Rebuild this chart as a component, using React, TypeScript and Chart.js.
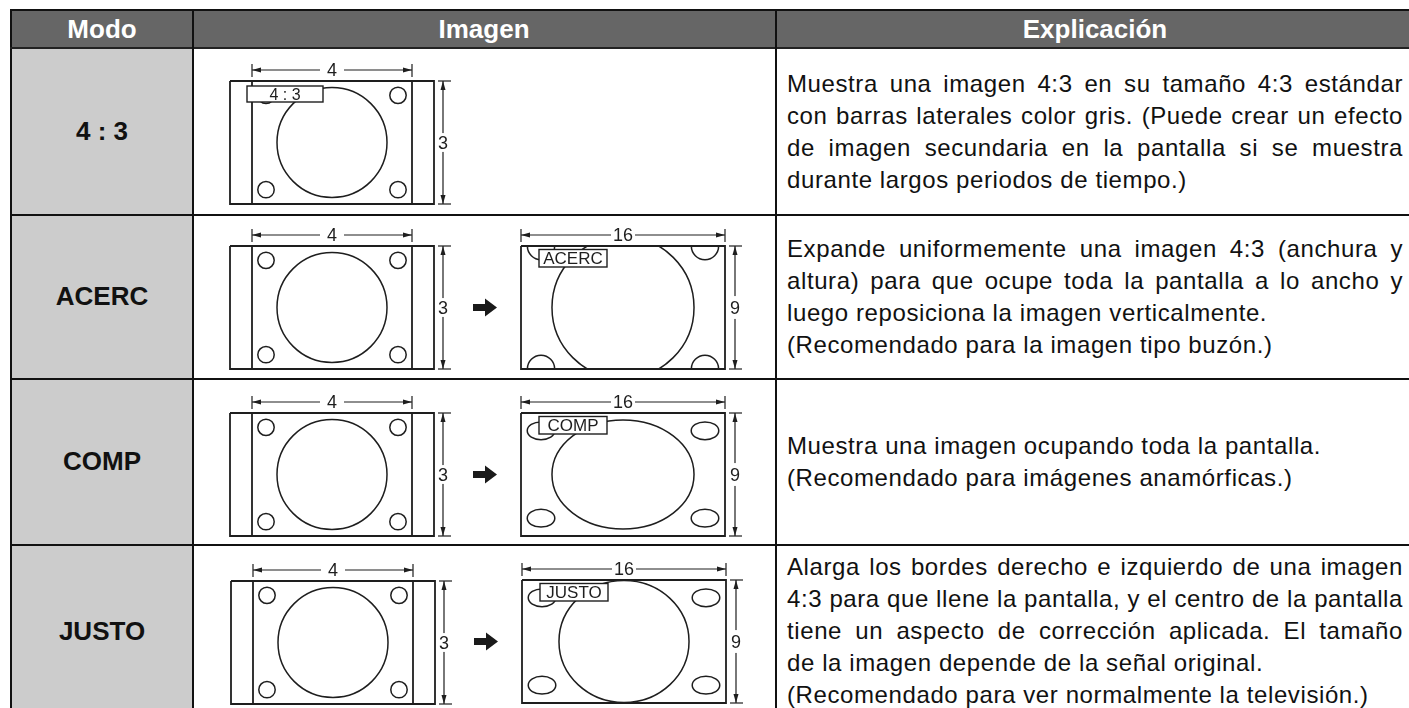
import React, { useEffect, useRef } from 'react';
import { Chart, registerables } from 'chart.js';

Chart.register(...registerables);

// ---------------- data ----------------
const HEADERS = ['Modo', 'Imagen', 'Explicación'];
const MODES = ['4 : 3', 'ACERC', 'COMP', 'JUSTO'];
const SCREEN_LABELS = ['4 : 3', 'ACERC', 'COMP', 'JUSTO'];
const SHOW_SOURCE_LABEL = [true, false, false, false];
const HAS_TARGET = [false, true, true, true];
const SOURCE_ASPECT = [4, 3];
const TARGET_ASPECT = [16, 9];
const SOURCE_DIM_LABELS = ['4', '3'];
const TARGET_DIM_LABELS = ['16', '9'];
const SOURCE_BAR = 0.55; // grey side bar width, in 4:3 screen units

// test pattern as seen on each screen, in screen units: [cx, cy, rx, ry]
const SOURCE_MAIN = [2, 1.5, 1.375, 1.34];
const SOURCE_CORNER = [0.35, 0.35, 0.205, 0.2]; // [insetX, insetY, rx, ry]
const TARGET_MAIN = [null, [8, 4.5, 5.57, 5.19], [8, 4.5, 5.57, 3.99], [8, 4.5, 5.1, 4.46]];
const TARGET_CORNER = [null, [1.57, 0, 1.07, 1.0], [1.57, 1.3, 1.08, 0.65], [1.57, 1.3, 1.08, 0.65]];

const EXPLANATIONS = [
  [[
    'Muestra una imagen 4:3 en su tamaño 4:3 estándar',
    'con barras laterales color gris. (Puede crear un efecto',
    'de imagen secundaria en la pantalla si se muestra',
    'durante largos periodos de tiempo.)',
  ]],
  [[
    'Expande uniformemente una imagen 4:3 (anchura y',
    'altura) para que ocupe toda la pantalla a lo ancho y',
    'luego reposiciona la imagen verticalmente.',
  ], ['(Recomendado para la imagen tipo buzón.)']],
  [['Muestra una imagen ocupando toda la pantalla.'], ['(Recomendado para imágenes anamórficas.)']],
  [[
    'Alarga los bordes derecho e izquierdo de una imagen',
    '4:3 para que llene la pantalla, y el centro de la pantalla',
    'tiene un aspecto de corrección aplicada. El tamaño',
    'de la imagen depende de la señal original.',
  ], ['(Recomendado para ver normalmente la televisión.)']],
];

// ---------------- layout ----------------
const FONT = '"Liberation Sans", Arial, Helvetica, sans-serif';
const INK = '#1e1e1e';
const TABLE_LEFT = 10;
const TABLE_TOP = 9;
const TABLE_RIGHT = 1420;
const HEADER_BOTTOM = 47;
const ROW_TOPS = [49, 215, 379, 545];
const ROW_BOTTOMS = [214, 378, 544, 717];
const COL_LINES = [192, 775];
const TEXT_LEFT = 787;
const TEXT_WIDTH = 616;
const TEXT_SIZE = 24;
const TEXT_LS = 0.6;
const HEADER_CENTERS = [102, 484, 1095];
const DIAGRAM_POS = [
  { src: [230, 81] },
  { src: [230, 246], dst: [521, 246] },
  { src: [230, 413], dst: [521, 413] },
  { src: [231, 581], dst: [522, 580] },
];
const GEO = {
  src: { ppx: 40, ppy: 41, mL: 6, mR: 22, mT: 20, mB: 4, rightGap: 9 },
  dst: { ppx: 12.75, ppy: 13.667, mL: 52, mR: 22, mT: 20, mB: 4, rightGap: 10 },
};

let measureCtx: CanvasRenderingContext2D | null = null;
function measure(text: string, font: string) {
  if (!measureCtx) measureCtx = document.createElement('canvas').getContext('2d');
  measureCtx!.font = font;
  return measureCtx!.measureText(text).width;
}

function seg(points: number[][], width: number) {
  return {
    data: points.map(([x, y]) => ({ x, y })),
    showLine: true,
    borderColor: INK,
    borderWidth: width,
    pointRadius: 0,
    pointHoverRadius: 0,
    fill: false,
    tension: 0,
  };
}

function geometry(kind: 'src' | 'dst') {
  const g = GEO[kind];
  const [W, H] = kind === 'src' ? SOURCE_ASPECT : TARGET_ASPECT;
  const fx0 = kind === 'src' ? -SOURCE_BAR : 0;
  const fx1 = kind === 'src' ? W + SOURCE_BAR : W;
  const width = Math.round((fx1 - fx0) * g.ppx + g.mL + g.mR);
  const height = Math.round(H * g.ppy + g.mT + g.mB);
  return { g, W, H, fx0, fx1, width, height };
}

function createDiagram(canvas: HTMLCanvasElement, kind: 'src' | 'dst', row: number) {
  const { g, W, H, fx0, fx1 } = geometry(kind);
  const ux = (px: number) => px / g.ppx;
  const uy = (px: number) => px / g.ppy;
  const dimY = -uy(11), tickY0 = -uy(17), tickY1 = -uy(4);
  const dimX = fx1 + ux(g.rightGap), tickX0 = fx1 + ux(4), tickX1 = fx1 + ux(17);

  const datasets: any[] = [seg([[fx0, 0], [fx1, 0], [fx1, H], [fx0, H], [fx0, 0]], 1.8)];
  if (kind === 'src') {
    datasets.push(seg([[0, 0], [0, H]], 1.8), seg([[W, 0], [W, H]], 1.8));
  }
  datasets.push(
    seg([[0, dimY], [W, dimY]], 1.2),
    seg([[0, tickY0], [0, tickY1]], 1.2),
    seg([[W, tickY0], [W, tickY1]], 1.2),
    seg([[dimX, 0], [dimX, H]], 1.2),
    seg([[tickX0, 0], [tickX1, 0]], 1.2),
    seg([[tickX0, H], [tickX1, H]], 1.2),
  );

  const ellipses: number[][] = [];
  const main = kind === 'src' ? SOURCE_MAIN : TARGET_MAIN[row]!;
  const corner = kind === 'src' ? SOURCE_CORNER : TARGET_CORNER[row]!;
  ellipses.push(main);
  const [ix, iy, crx, cry] = corner;
  ellipses.push([ix, iy, crx, cry], [W - ix, iy, crx, cry], [ix, H - iy, crx, cry], [W - ix, H - iy, crx, cry]);

  const label = kind === 'src'
    ? (SHOW_SOURCE_LABEL[row] ? { x0: -ux(5), x1: -ux(5) + ux(76), y0: uy(5), y1: uy(21), size: 16 } : null)
    : { x0: ux(18), x1: ux(86), y0: uy(3.5), y1: uy(21), size: 17 };
  const dimLabels = kind === 'src' ? SOURCE_DIM_LABELS : TARGET_DIM_LABELS;
  const padH = kind === 'src' ? 7 : 2;
  const padV = kind === 'src' ? 3 : 5;

  const plugin = {
    id: 'screenDiagram',
    beforeDatasetsDraw(chart: any) {
      const ctx = chart.ctx;
      const xs = chart.scales.x, ys = chart.scales.y;
      const X = (v: number) => xs.getPixelForValue(v);
      const Y = (v: number) => ys.getPixelForValue(v);
      ctx.save();
      ctx.beginPath();
      ctx.rect(X(fx0), Y(0), X(fx1) - X(fx0), Y(H) - Y(0));
      ctx.clip();
      ctx.strokeStyle = INK;
      ctx.lineWidth = 1.5;
      for (const [cx, cy, rx, ry] of ellipses) {
        const px = X(cx), py = Y(cy);
        const prx = Math.abs(X(cx + rx) - px), pry = Math.abs(Y(cy + ry) - py);
        ctx.beginPath();
        ctx.ellipse(px, py, prx, pry, 0, 0, Math.PI * 2);
        ctx.stroke();
      }
      ctx.restore();
    },
    afterDatasetsDraw(chart: any) {
      const ctx = chart.ctx;
      const xs = chart.scales.x, ys = chart.scales.y;
      const X = (v: number) => xs.getPixelForValue(v);
      const Y = (v: number) => ys.getPixelForValue(v);
      ctx.save();
      // screen label box
      if (label) {
        const bx = X(label.x0), by = Y(label.y0), bw = X(label.x1) - bx, bh = Y(label.y1) - by;
        ctx.fillStyle = '#fff';
        ctx.fillRect(bx, by, bw, bh);
        ctx.strokeStyle = INK;
        ctx.lineWidth = 1.4;
        ctx.strokeRect(bx, by, bw, bh);
        ctx.fillStyle = INK;
        ctx.font = `${label.size}px ${FONT}`;
        ctx.textAlign = 'center';
        ctx.textBaseline = 'alphabetic';
        ctx.fillText(SCREEN_LABELS[row], bx + bw / 2, by + bh / 2 + label.size * 0.36);
      }
      // arrow heads
      ctx.fillStyle = INK;
      const head = (tx: number, ty: number, dx: number, dy: number) => {
        const L = 9, hw = 2.5;
        ctx.beginPath();
        ctx.moveTo(tx, ty);
        ctx.lineTo(tx - dx * L - dy * hw, ty - dy * L + dx * hw);
        ctx.lineTo(tx - dx * L + dy * hw, ty - dy * L - dx * hw);
        ctx.closePath();
        ctx.fill();
      };
      head(X(0), Y(dimY), -1, 0);
      head(X(W), Y(dimY), 1, 0);
      head(X(dimX), Y(0), 0, -1);
      head(X(dimX), Y(H), 0, 1);
      // dimension labels
      const size = 18;
      ctx.font = `${size}px ${FONT}`;
      ctx.textAlign = 'center';
      ctx.textBaseline = 'alphabetic';
      const cap = size * 0.716;
      const drawDim = (text: string, cx: number, cy: number, ph: number, pv: number) => {
        const tw = measure(text, ctx.font);
        ctx.fillStyle = '#fff';
        ctx.fillRect(cx - tw / 2 - ph, cy - cap / 2 - pv, tw + 2 * ph, cap + 2 * pv);
        ctx.fillStyle = INK;
        ctx.fillText(text, cx, cy + cap / 2);
      };
      drawDim(dimLabels[0], X(W / 2), Y(dimY), padH, 3);
      drawDim(dimLabels[1], X(dimX), Y(H / 2), 1, padV);
      // conversion arrow
      if (kind === 'dst') {
        const c = H / 2;
        const pts = [
          [-ux(48), c - uy(3.5)], [-ux(36), c - uy(3.5)], [-ux(36), c - uy(9)], [-ux(24), c],
          [-ux(36), c + uy(9)], [-ux(36), c + uy(3.5)], [-ux(48), c + uy(3.5)],
        ];
        ctx.fillStyle = '#1a1a1a';
        ctx.beginPath();
        pts.forEach(([x, y], i) => (i ? ctx.lineTo(X(x), Y(y)) : ctx.moveTo(X(x), Y(y))));
        ctx.closePath();
        ctx.fill();
      }
      ctx.restore();
    },
  };

  return new Chart(canvas, {
    type: 'scatter',
    data: { datasets },
    options: {
      responsive: false,
      animation: false,
      devicePixelRatio: 1,
      events: [],
      layout: { padding: 0 },
      plugins: { legend: { display: false }, tooltip: { enabled: false }, title: { display: false } },
      scales: {
        x: { type: 'linear', min: fx0 - ux(g.mL), max: fx1 + ux(g.mR), display: false },
        y: { type: 'linear', min: -uy(g.mT), max: H + uy(g.mB), reverse: true, display: false },
      },
    },
    plugins: [plugin],
  } as any);
}

function Diagram({ kind, row, frame }: { kind: 'src' | 'dst'; row: number; frame: number[] }) {
  const ref = useRef<HTMLCanvasElement>(null);
  const { g, width, height } = geometry(kind);
  useEffect(() => {
    const chart = createDiagram(ref.current!, kind, row);
    return () => chart.destroy();
  }, [kind, row]);
  return (
    <canvas
      ref={ref}
      width={width}
      height={height}
      style={{ position: 'absolute', left: frame[0] - g.mL, top: frame[1] - g.mT, width, height }}
    />
  );
}

function Explanation({ paragraphs, top, height }: { paragraphs: string[][]; top: number; height: number }) {
  const font = `${TEXT_SIZE}px ${FONT}`;
  const lines: { t: string; justify: boolean }[] = [];
  paragraphs.forEach((p) => p.forEach((t, i) => lines.push({ t, justify: i < p.length - 1 })));
  return (
    <div
      style={{
        position: 'absolute', left: TEXT_LEFT, top, width: TEXT_WIDTH, height,
        display: 'flex', flexDirection: 'column', justifyContent: 'center',
      }}
    >
      {lines.map((l, i) => {
        let ws = 0;
        if (l.justify) {
          const natural = measure(l.t, font) + TEXT_LS * [...l.t].length;
          const spaces = (l.t.match(/ /g) || []).length;
          ws = spaces ? (TEXT_WIDTH - natural) / spaces : 0;
        }
        return (
          <div
            key={i}
            style={{
              whiteSpace: 'nowrap', fontSize: TEXT_SIZE, lineHeight: '32px',
              letterSpacing: TEXT_LS, wordSpacing: ws, color: '#111',
            }}
          >
            {l.t}
          </div>
        );
      })}
    </div>
  );
}

export default function App() {
  const abs = (s: React.CSSProperties): React.CSSProperties => ({ position: 'absolute', ...s });
  const colBounds = [TABLE_LEFT + 2, COL_LINES[0], COL_LINES[1], TABLE_RIGHT];
  return (
    <div style={abs({ left: 0, top: 0, width: 1409, height: 708, overflow: 'hidden', background: '#fff', fontFamily: FONT })}>
      {/* header band */}
      <div style={abs({ left: TABLE_LEFT, top: TABLE_TOP, width: TABLE_RIGHT - TABLE_LEFT, height: HEADER_BOTTOM - TABLE_TOP, background: '#666666' })} />
      {/* modo column fill */}
      <div style={abs({ left: TABLE_LEFT, top: HEADER_BOTTOM, width: COL_LINES[0] - TABLE_LEFT, height: 720, background: '#cccccc' })} />
      {/* outer borders */}
      <div style={abs({ left: TABLE_LEFT, top: TABLE_TOP, width: TABLE_RIGHT - TABLE_LEFT, height: 2, background: '#111' })} />
      <div style={abs({ left: TABLE_LEFT, top: TABLE_TOP, width: 2, height: 720, background: '#111' })} />
      <div style={abs({ left: TABLE_LEFT, top: HEADER_BOTTOM, width: TABLE_RIGHT - TABLE_LEFT, height: 2, background: '#222' })} />
      {/* column lines */}
      {COL_LINES.map((x, i) => (
        <div key={'c' + i} style={abs({ left: x, top: TABLE_TOP, width: 1.5, height: 720, background: '#111' })} />
      ))}
      {/* row lines */}
      {ROW_BOTTOMS.slice(0, 3).map((y, i) => (
        <div key={'r' + i} style={abs({ left: TABLE_LEFT, top: y, width: TABLE_RIGHT - TABLE_LEFT, height: 1.5, background: '#111' })} />
      ))}
      {/* header texts */}
      {HEADERS.map((h, i) => (
        <div
          key={'h' + i}
          style={abs({
            left: HEADER_CENTERS[i] - 200, width: 400, top: TABLE_TOP + 2, height: HEADER_BOTTOM - TABLE_TOP - 2,
            display: 'flex', alignItems: 'center', justifyContent: 'center',
            color: '#fff', fontWeight: 'bold', fontSize: 26,
          })}
        >
          {h}
        </div>
      ))}
      {/* mode names */}
      {MODES.map((m, i) => (
        <div
          key={'m' + i}
          style={abs({
            left: colBounds[0], width: colBounds[1] - colBounds[0], top: ROW_TOPS[i], height: ROW_BOTTOMS[i] - ROW_TOPS[i],
            display: 'flex', alignItems: 'center', justifyContent: 'center',
            color: '#111', fontWeight: 'bold', fontSize: 26,
          })}
        >
          {m}
        </div>
      ))}
      {/* explanations */}
      {EXPLANATIONS.map((p, i) => (
        <Explanation key={'e' + i} paragraphs={p} top={ROW_TOPS[i]} height={ROW_BOTTOMS[i] - ROW_TOPS[i]} />
      ))}
      {/* diagrams */}
      {DIAGRAM_POS.map((d, i) => (
        <React.Fragment key={'d' + i}>
          <Diagram kind="src" row={i} frame={d.src} />
          {HAS_TARGET[i] && d.dst ? <Diagram kind="dst" row={i} frame={d.dst} /> : null}
        </React.Fragment>
      ))}
    </div>
  );
}
